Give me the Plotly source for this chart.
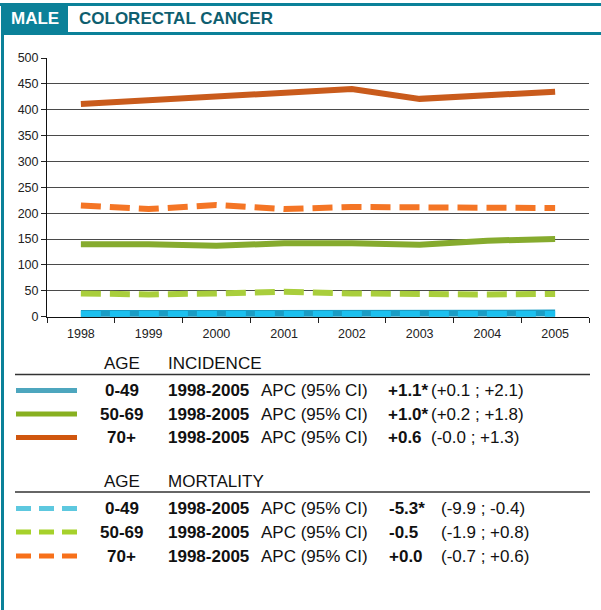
import plotly.graph_objects as go

W, H = 601, 610

# ---------------- data ----------------
years = ["1998", "1999", "2000", "2001", "2002", "2003", "2004", "2005"]
inc_0_49 = [6, 6, 6, 6, 7, 7, 7, 7]
inc_50_69 = [140, 140, 137, 142, 142, 139, 147, 150]
inc_70p = [411, 418, 424, 432, 440, 421, 428, 435]
mort_0_49 = [5, 5, 5, 5, 5, 5, 5, 5]
mort_50_69 = [45, 43, 45, 48, 45, 43, 43, 44]
mort_70p = [215, 208, 216, 208, 212, 212, 212, 210]
y_ticks = [0, 50, 100, 150, 200, 250, 300, 350, 400, 450, 500]

age_groups = ["0-49", "50-69", "70+"]
period = "1998-2005"
apc_label = "APC (95% CI)"
inc_apc = ["+1.1*", "+1.0*", "+0.6"]
inc_ci = ["(+0.1 ; +2.1)", "(+0.2 ; +1.8)", "(-0.0 ; +1.3)"]
mort_apc = ["-5.3*", "-0.5", "+0.0"]
mort_ci = ["(-9.9 ; -0.4)", "(-1.9 ; +0.8)", "(-0.7 ; +0.6)"]

# ---------------- styling ----------------
TEAL = "#0B8199"
TITLE_C = "#0E5E6F"
inc_colors = ["#1A9DC5", "#86AB2E", "#C95B1C"]
mort_colors = ["#1CC0EF", "#A9CE3C", "#F47525"]
leg_inc_colors = ["#4DA6BE", "#88B020", "#D0560E"]
leg_mort_colors = ["#5DC8DF", "#A6D12B", "#F7701A"]
FONT = "Liberation Sans, Arial, sans-serif"
LSIZE = 17


def px(x):
    return x / W


def py(y):
    return 1 - y / H


fig = go.Figure()

inc_series = [inc_0_49, inc_50_69, inc_70p]
mort_series = [mort_0_49, mort_50_69, mort_70p]
inc_widths = [7, 6, 6]

for i in [2, 1, 0]:
    fig.add_trace(go.Scatter(x=years, y=inc_series[i], mode="lines",
                             line=dict(color=inc_colors[i], width=inc_widths[i]),
                             showlegend=False, hoverinfo="skip"))
for i in [2, 1, 0]:
    fig.add_trace(go.Scatter(x=years, y=mort_series[i], mode="lines",
                             line=dict(color=mort_colors[i], width=6, dash="20px,9px"),
                             showlegend=False, hoverinfo="skip"))

shapes = []
# frame lines
shapes.append(dict(type="rect", xref="paper", yref="paper", x0=px(0), x1=px(W), y0=py(6), y1=py(3),
                   fillcolor=TEAL, line=dict(width=0), layer="above"))
shapes.append(dict(type="rect", xref="paper", yref="paper", x0=px(1), x1=px(W), y0=py(35), y1=py(32),
                   fillcolor=TEAL, line=dict(width=0), layer="above"))
shapes.append(dict(type="rect", xref="paper", yref="paper", x0=px(1), x1=px(4), y0=py(H), y1=py(3),
                   fillcolor=TEAL, line=dict(width=0), layer="above"))
shapes.append(dict(type="rect", xref="paper", yref="paper", x0=px(1), x1=px(68), y0=py(33), y1=py(3),
                   fillcolor=TEAL, line=dict(width=0), layer="above"))

annotations = []
annotations.append(dict(text="<b>MALE</b>", x=px(9), y=py(18.5), xref="paper", yref="paper",
                        xanchor="left", yanchor="middle", showarrow=False,
                        font=dict(family=FONT, size=17, color="white")))
annotations.append(dict(text="<b>COLORECTAL CANCER</b>", x=px(77), y=py(18.5), xref="paper", yref="paper",
                        xanchor="left", yanchor="middle", showarrow=False,
                        font=dict(family=FONT, size=17, color=TITLE_C)))


def txt(text, x, y, anchor="left"):
    annotations.append(dict(text=text, x=px(x), y=py(y), xref="paper", yref="paper",
                            xanchor=anchor, yanchor="middle", showarrow=False,
                            font=dict(family=FONT, size=LSIZE, color="#111")))


def legend_block(header, hy, liney, rows_y, colors, dashed, values, cis, val_x, ci_x):
    txt("AGE", 122, hy, "center")
    txt(header, 166, hy)
    shapes.append(dict(type="line", xref="paper", yref="paper", x0=px(15), x1=px(590), y0=py(liney), y1=py(liney),
                       line=dict(color="#333", width=1.5)))
    for k in range(3):
        ry = rows_y[k]
        shapes.append(dict(type="line", xref="paper", yref="paper", x0=px(16), x1=px(77), y0=py(ry), y1=py(ry),
                           line=dict(color=colors[k], width=5, dash="15px,8px" if dashed else "solid")))
        txt("<b>" + age_groups[k] + "</b>", 122, ry, "center")
        txt("<b>" + period + "</b>", 166, ry)
        txt(apc_label, 259, ry)
        txt("<b>" + values[k] + "</b>", val_x, ry)
        txt(cis[k], ci_x, ry)


legend_block("INCIDENCE", 363, 374.5, [390.5, 414, 437.5], leg_inc_colors, False, inc_apc, inc_ci, 386, 429)
legend_block("MORTALITY", 481, 492, [508.5, 532, 556], leg_mort_colors, True, mort_apc, mort_ci, 387, 439)

fig.update_layout(
    width=W, height=H, margin=dict(l=0, r=0, t=0, b=0, autoexpand=False),
    paper_bgcolor="white", plot_bgcolor="white",
    shapes=shapes, annotations=annotations,
    xaxis=dict(type="category", domain=[px(47), px(589)], range=[-0.5, 7.5],
               tickson="boundaries", ticks="outside", ticklen=5, tickcolor="#222",
               showline=True, linecolor="#111", linewidth=1, showgrid=False, automargin=False,
               ticklabelstandoff=5,
               tickfont=dict(family=FONT, size=12.5, color="#222"), anchor="y"),
    yaxis=dict(range=[0, 500], domain=[py(316.7), py(58)], tickvals=y_ticks,
               ticks="outside", ticklen=5, tickcolor="#222",
               showline=True, linecolor="#111", linewidth=1, automargin=False,
               showgrid=True, gridcolor="#4a4a4a", gridwidth=1, zeroline=False,
               tickfont=dict(family=FONT, size=12.5, color="#222"), anchor="x"),
)

fig.write_html(
    "out.html",
    config={"displayModeBar": False},
    post_script="document.body.style.margin='0';document.body.style.padding='0';",
)
